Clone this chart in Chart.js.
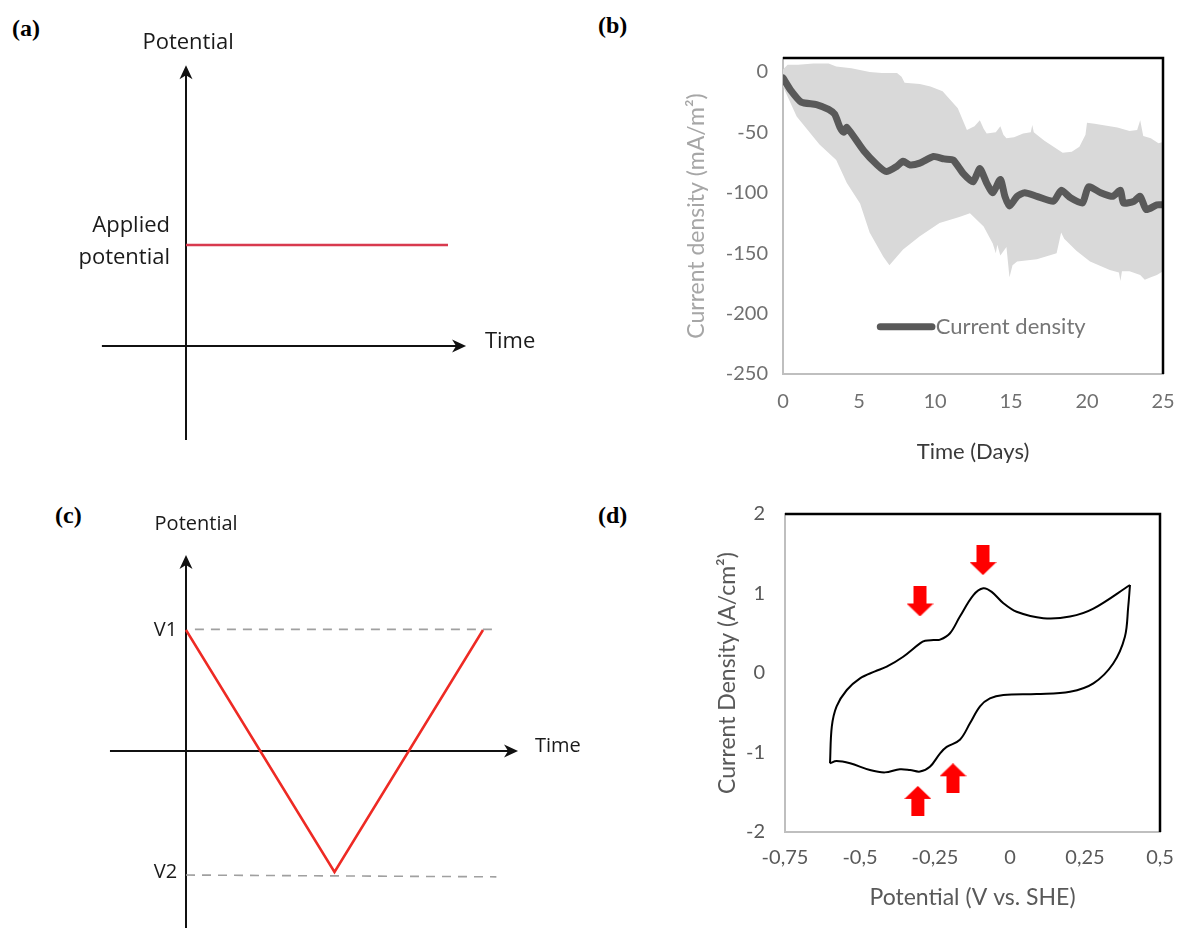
<!DOCTYPE html>
<html>
<head>
<meta charset="utf-8">
<script src="https://cdn.jsdelivr.net/npm/chart.js@4.4.0/dist/chart.umd.min.js"></script>
<style>
  body { margin: 0; background: #fff; width: 1177px; height: 928px; position: relative; overflow: hidden; }
  canvas { position: absolute; }
  .tag { position: absolute; font: bold 24px "Liberation Serif", serif; line-height: 24px; color: #000; }
</style>
</head>
<body>
<div class="tag" style="left:12px;top:16px">(a)</div>
<div class="tag" style="left:598px;top:13px">(b)</div>
<div class="tag" style="left:55px;top:503px">(c)</div>
<div class="tag" style="left:598px;top:503px">(d)</div>
<canvas id="ca" width="580" height="480" style="left:0;top:0"></canvas>
<canvas id="cb" width="597" height="480" style="left:580px;top:0"></canvas>
<canvas id="cc" width="600" height="448" style="left:0;top:480px"></canvas>
<canvas id="cd" width="597" height="448" style="left:580px;top:480px"></canvas>
<script>
// ---- (a) chronoamperometry: constant applied potential
const timeA = [0, 1];
const potentialA = [1, 1];

// ---- (c) cyclic voltammetry sweep
const timeC = [0, 0.5, 1];
const potentialC = [1, -1, 1];
const v1Time = [0.03, 1.045];
const v1Pot = [1.005, 1.005];
const v2Time = [0, 1.045];
const v2Pot = [-1.025, -1.04];

// ---- (b) current density over 25 days (mean + spread band)
const meanDays = [0, 0.5, 1.2, 2.2, 3.0, 3.4, 3.75, 4.0, 4.2, 5.3, 6.2, 6.8, 7.5, 7.9, 8.35, 9.0, 9.9, 10.6, 11.2, 11.85,
  12.5, 12.95, 13.4, 13.8, 14.3, 14.6, 14.9, 15.4, 15.9, 16.7, 17.8, 18.3, 18.9, 19.7, 20.1, 20.9, 21.7, 22.2, 22.4,
  23.1, 23.5, 23.9, 24.6, 25];
const meanCurrent = [-5, -15, -25, -27, -31, -35, -46, -50, -46, -65, -77, -82.5, -78, -74, -77, -75.5, -70, -72, -73, -84,
  -91, -80, -92, -100, -89, -103, -111, -103, -100, -103, -107, -98, -104, -108.5, -95, -100, -103, -98, -108.5,
  -107, -103, -114, -110, -110];
const upperDays = [0, 0.3, 1, 2, 3, 3.5, 4.5, 5.7, 6.5, 7.5, 7.8, 8, 9, 9.7, 10.5, 11, 11.5, 12.1, 12.6, 12.95, 13.2, 13.4,
  14.0, 14.3, 14.5, 14.7, 15.2, 15.8, 16.3, 16.4, 16.5, 16.7, 17.2, 17.8, 18.4, 19.0, 19.5, 19.9, 20.0, 20.5, 21, 22,
  22.8, 23.3, 23.5, 23.7, 24.2, 24.7, 25];
const upperCurrent = [2, 6, 6, 7, 7, 4.5, 3, 0, -1, -1, -4, -9, -10, -12, -16, -23, -30, -48, -45, -40, -47, -51,
  -50, -45, -52, -55, -54, -51, -50, -44, -50, -52, -57, -62, -67, -66, -62, -52, -42, -43, -44, -46,
  -49, -48, -40, -53, -55, -59, -58];
const lowerDays = [0, 0.9, 2.4, 3.5, 4.2, 5.07, 5.7, 6.6, 7.0, 7.9, 9.0, 10.3, 11.6, 12.3, 13.2, 13.8, 14.0, 14.1, 14.3,
  14.7, 14.9, 15.1, 15.4, 16.7, 18.0, 18.3, 18.5, 19.3, 20.2, 21.5, 22.1, 22.2, 22.3, 22.8, 23.5, 23.8, 24.2, 24.6, 25];
const lowerCurrent = [-12, -37, -60, -73, -92, -109, -133, -153, -160, -147, -136, -125, -120, -117, -128, -142, -150, -143, -152,
  -145, -170, -160, -157, -155, -150, -133, -138, -148, -157, -164, -166, -173, -165, -165, -168, -172, -170, -168, -165];
const bTicksX = [0, 5, 10, 15, 20, 25];
const bTicksY = [0, -50, -100, -150, -200, -250];

// ---- (d) cyclic voltammogram
const cvForwardV = [-0.600, -0.594, -0.578, -0.544, -0.500, -0.450, -0.411, -0.356, -0.300, -0.283, -0.255, -0.233,
  -0.200, -0.167, -0.122, -0.089, -0.061, -0.022, 0.022, 0.111, 0.200, 0.278, 0.400];
const cvForwardJ = [-1.136, -0.675, -0.42, -0.214, -0.067, 0.02, 0.08, 0.205, 0.373, 0.405, 0.415, 0.42,
  0.5, 0.71, 0.98, 1.065, 1.02, 0.877, 0.77, 0.69, 0.71, 0.81, 1.107];
const cvReverseV = [0.400, 0.394, 0.383, 0.344, 0.278, 0.200, 0.089, -0.022, -0.067, -0.100, -0.133, -0.167, -0.211,
  -0.233, -0.267, -0.300, -0.333, -0.367, -0.417, -0.467, -0.533, -0.578, -0.600];
const cvReverseJ = [1.107, 0.83, 0.457, 0.12, -0.13, -0.235, -0.264, -0.277, -0.32, -0.42, -0.63, -0.84, -0.93,
  -1.01, -1.18, -1.24, -1.22, -1.21, -1.25, -1.22, -1.136, -1.107, -1.136];
const peakDownV = [-0.300, -0.090];
const peakDownJ = [0.90, 1.42];
const peakUpV = [-0.307, -0.190];
const peakUpJ = [-1.61, -1.325];
const dTicksX = [-0.75, -0.5, -0.25, 0, 0.25, 0.5];
const dTickLabelsX = ['-0,75', '-0,5', '-0,25', '0', '0,25', '0,5'];
const dTicksY = [-2, -1, 0, 1, 2];

const pts = (xs, ys) => xs.map((v, i) => ({x: v, y: ys[i]}));
const fixTicks = list => scale => { scale.ticks = list.map(v => ({value: v})); };
// fixed axis box size, no extra room reserved for the end labels
const boxSize = (w, h) => s => {
  if (w) s.width = w;
  if (h) s.height = h;
  s.paddingLeft = s.paddingRight = s.paddingTop = s.paddingBottom = 0;
};

// arrow head (notched), tip at x,y pointing along dx,dy
function arrowHead(ctx, x, y, dx, dy) {
  const L = 14, W = 6.5, N = 4, px = -dy, py = dx;
  ctx.beginPath();
  ctx.moveTo(x, y);
  ctx.lineTo(x - dx * L + px * W, y - dy * L + py * W);
  ctx.lineTo(x - dx * (L - N), y - dy * (L - N));
  ctx.lineTo(x - dx * L - px * W, y - dy * L - py * W);
  ctx.closePath();
  ctx.fill();
}

// axes with arrows + labels for the schematic panels
const schematic = {
  id: 'schematic',
  beforeDatasetsDraw(chart, args, opts) {
    const {ctx, scales: {x, y}} = chart;
    ctx.save();
    ctx.strokeStyle = ctx.fillStyle = '#111';
    ctx.lineWidth = 2;
    const x0 = x.getPixelForValue(0), y0 = y.getPixelForValue(0);
    const xa = x.getPixelForValue(opts.tRange[0]), xb = x.getPixelForValue(opts.tRange[1]);
    const ya = y.getPixelForValue(opts.eRange[0]), yb = y.getPixelForValue(opts.eRange[1]);
    ctx.beginPath();
    ctx.moveTo(xa, y0); ctx.lineTo(xb - 8, y0);
    ctx.moveTo(x0, ya); ctx.lineTo(x0, yb + 8);
    ctx.stroke();
    arrowHead(ctx, xb, y0, 1, 0);
    arrowHead(ctx, x0, yb, 0, -1);
    ctx.fillStyle = '#1a1a1a';
    ctx.textBaseline = 'middle';
    opts.labels.forEach(l => {
      ctx.font = l.size + 'px "Open Sans"';
      ctx.textAlign = l.align;
      ctx.fillText(l.text, x.getPixelForValue(l.t), y.getPixelForValue(l.e));
    });
    ctx.restore();
  }
};

// black top and right edges of the plot box
const frame = {
  id: 'frame',
  afterDraw(chart) {
    const {ctx, chartArea: a} = chart;
    ctx.save();
    ctx.strokeStyle = '#000';
    ctx.lineWidth = 2.5;
    ctx.beginPath();
    ctx.moveTo(a.left, a.top);
    ctx.lineTo(a.right, a.top);
    ctx.lineTo(a.right, a.bottom);
    ctx.stroke();
    ctx.restore();
  }
};

// legend of panel (b), drawn inside the plot area
const inLegend = {
  id: 'inLegend',
  afterDatasetsDraw(chart) {
    const {ctx, scales: {x, y}} = chart;
    const ds = chart.data.datasets[2];
    const yy = y.getPixelForValue(-211);
    ctx.save();
    ctx.strokeStyle = ds.borderColor;
    ctx.lineWidth = ds.borderWidth;
    ctx.lineCap = 'round';
    ctx.beginPath();
    ctx.moveTo(x.getPixelForValue(6.4), yy);
    ctx.lineTo(x.getPixelForValue(9.8), yy);
    ctx.stroke();
    ctx.fillStyle = '#767676';
    ctx.font = '22px Lato';
    ctx.textBaseline = 'middle';
    ctx.fillText(ds.label, x.getPixelForValue(10.05), yy);
    ctx.restore();
  }
};

const hidden = {type: 'linear', display: false};
const base = {responsive: false, animation: false, events: [],
  plugins: {legend: {display: false}, tooltip: {enabled: false}}};

// (a)
new Chart(document.getElementById('ca'), {
  type: 'line',
  data: {datasets: [{data: pts(timeA, potentialA), borderColor: '#d83a4e', borderWidth: 2.5, pointRadius: 0, clip: false}]},
  options: {...base,
    layout: {autoPadding: false, padding: {left: 186, right: 132, top: 245, bottom: 134}},
    scales: {x: {...hidden, min: 0, max: 1}, y: {...hidden, min: 0, max: 1}},
    plugins: {...base.plugins, schematic: {tRange: [-0.321, 1.069], eRange: [-0.93, 2.78], labels: [
      {text: 'Potential', t: 0.008, e: 3.0, align: 'center', size: 22},
      {text: 'Time', t: 1.141, e: 0.04, align: 'left', size: 22},
      {text: 'Applied', t: -0.061, e: 1.19, align: 'right', size: 22},
      {text: 'potential', t: -0.061, e: 0.87, align: 'right', size: 22}]}}},
  plugins: [schematic]
});

// (c)
new Chart(document.getElementById('cc'), {
  type: 'line',
  data: {datasets: [
    {data: pts(timeC, potentialC), borderColor: '#ee2a24', borderWidth: 2.5, pointRadius: 0, clip: false},
    {data: pts(v1Time, v1Pot), borderColor: '#a0a0a0', borderWidth: 1.6, borderDash: [9, 7], pointRadius: 0, clip: false},
    {data: pts(v2Time, v2Pot), borderColor: '#a0a0a0', borderWidth: 1.6, borderDash: [9, 7], pointRadius: 0, clip: false}]},
  options: {...base,
    layout: {autoPadding: false, padding: {left: 186, right: 117, top: 150, bottom: 56}},
    scales: {x: {...hidden, min: 0, max: 1}, y: {...hidden, min: -1, max: 1}},
    plugins: {...base.plugins, schematic: {tRange: [-0.256, 1.118], eRange: [-1.5, 1.62], labels: [
      {text: 'Potential', t: 0.034, e: 1.876, align: 'center', size: 20},
      {text: 'Time', t: 1.175, e: 0.04, align: 'left', size: 20},
      {text: 'V1', t: -0.03, e: 1.0, align: 'right', size: 20},
      {text: 'V2', t: -0.03, e: -1.0, align: 'right', size: 20}]}}},
  plugins: [schematic]
});

// (b)
new Chart(document.getElementById('cb'), {
  type: 'line',
  data: {datasets: [
    {data: pts(lowerDays, lowerCurrent), borderWidth: 0, pointRadius: 0, fill: false, order: 2},
    {data: pts(upperDays, upperCurrent), borderWidth: 0, pointRadius: 0, backgroundColor: '#d9d9d9', fill: '-1', order: 1},
    {label: 'Current density', data: pts(meanDays, meanCurrent), borderColor: '#595959', borderWidth: 7,
      pointRadius: 0, tension: 0.2, borderJoinStyle: 'round', borderCapStyle: 'round', order: 0}]},
  options: {...base,
    layout: {autoPadding: false, padding: {top: 58, right: 14, left: 0, bottom: 0}},
    scales: {
      x: {type: 'linear', min: 0, max: 25, afterBuildTicks: fixTicks(bTicksX), afterFit: boxSize(0, 106),
        grid: {display: false, drawTicks: false}, border: {color: '#bfbfbf', width: 2},
        ticks: {autoSkip: false, maxRotation: 0, padding: 16, color: '#707070', font: {family: 'Lato', size: 20}},
        title: {display: true, text: 'Time (Days)', color: '#3a3a3a', font: {family: 'Lato', size: 22}, padding: {top: 0, bottom: 15}}},
      y: {type: 'linear', min: -250, max: 11.5, afterBuildTicks: fixTicks(bTicksY), afterFit: boxSize(203, 0),
        grid: {display: false, drawTicks: false}, border: {color: '#bfbfbf', width: 2},
        ticks: {autoSkip: false, padding: 15, color: '#707070', font: {family: 'Lato', size: 20}},
        title: {display: true, text: 'Current density (mA/m²)', color: '#a6a6a6', font: {family: 'Lato', size: 23}, padding: {top: 103, bottom: 0}}}
    }},
  plugins: [frame, inLegend]
});

// (d)
function arrowIcon() {
  const c = document.createElement('canvas');
  c.width = 27; c.height = 30;
  const g = c.getContext('2d');
  g.fillStyle = '#ff0000';
  g.beginPath();
  g.moveTo(7, 0); g.lineTo(20, 0); g.lineTo(20, 17); g.lineTo(27, 17);
  g.lineTo(13.5, 30); g.lineTo(0, 17); g.lineTo(7, 17);
  g.closePath();
  g.fill();
  return c;
}
const arrow = arrowIcon();

new Chart(document.getElementById('cd'), {
  type: 'line',
  data: {datasets: [
    {data: pts(cvForwardV, cvForwardJ), borderColor: '#000', borderWidth: 2, pointRadius: 0, tension: 0.35},
    {data: pts(cvReverseV, cvReverseJ), borderColor: '#000', borderWidth: 2, pointRadius: 0, tension: 0.35},
    {data: pts(peakDownV, peakDownJ), showLine: false, pointStyle: arrow, pointRadius: 12},
    {data: pts(peakUpV, peakUpJ), showLine: false, pointStyle: arrow, pointRotation: 180, pointRadius: 12}]},
  options: {...base,
    layout: {autoPadding: false, padding: {top: 34, right: 17, left: 0, bottom: 0}},
    scales: {
      x: {type: 'linear', min: -0.75, max: 0.5, afterBuildTicks: fixTicks(dTicksX), afterFit: boxSize(0, 96),
        grid: {display: false, drawTicks: false}, border: {color: '#bfbfbf', width: 2},
        ticks: {autoSkip: false, maxRotation: 0, padding: 14, color: '#595959', font: {family: 'Lato', size: 20},
          callback: (v, i) => dTickLabelsX[i]},
        title: {display: true, text: 'Potential (V vs. SHE)', color: '#595959', font: {family: 'Lato', size: 23}, padding: {top: 0, bottom: 17}}},
      y: {type: 'linear', min: -2, max: 2, afterBuildTicks: fixTicks(dTicksY), afterFit: boxSize(205, 0),
        grid: {display: false, drawTicks: false}, border: {color: '#bfbfbf', width: 2},
        ticks: {autoSkip: false, padding: 20, color: '#595959', font: {family: 'Lato', size: 20}},
        title: {display: true, text: 'Current Density (A/cm²)', color: '#595959', font: {family: 'Lato', size: 23}, padding: {top: 134, bottom: 0}}}
    }},
  plugins: [frame]
});
</script>
</body>
</html>
